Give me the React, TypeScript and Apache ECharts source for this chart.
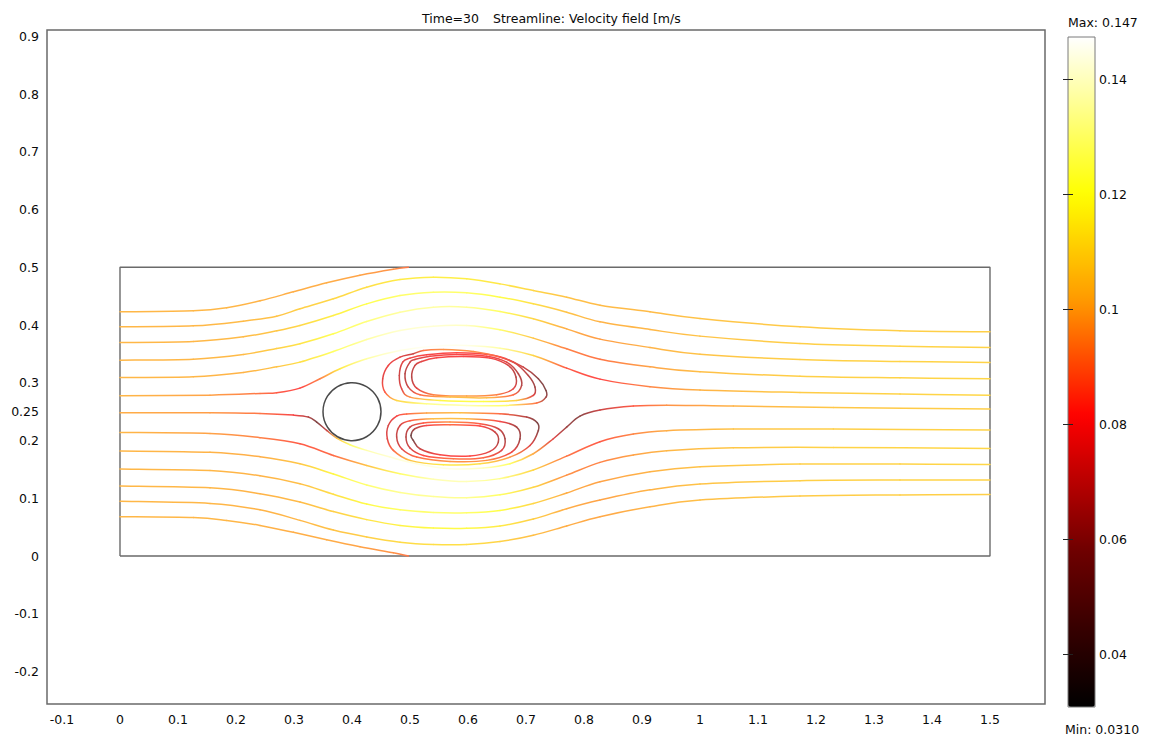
import React, { useEffect, useRef } from "react";
import * as echarts from "echarts";

// ---------- axes ----------
const X_TICKS = [-0.1, 0, 0.1, 0.2, 0.3, 0.4, 0.5, 0.6, 0.7, 0.8, 0.9, 1, 1.1, 1.2, 1.3, 1.4, 1.5];
const Y_TICKS = [-0.2, -0.1, 0, 0.1, 0.2, 0.25, 0.3, 0.4, 0.5, 0.6, 0.7, 0.8, 0.9];
const X_RANGE = [-0.12586, 1.59483];
const Y_RANGE = [-0.25632, 0.91098];

// ---------- colour bar ----------
const CBAR_TICKS = [0.04, 0.06, 0.08, 0.1, 0.12, 0.14];
const CBAR_RANGE = [0.0308, 0.1474];
const CBAR_MAX_LABEL = "Max: 0.147";
const CBAR_MIN_LABEL = "Min: 0.0310";
const TITLE_TIME = "Time=30";
const TITLE_EXPR = "Streamline: Velocity field [m/s";

// colormap (speed -> colour)
const CMAP_STOPS = [0.0308, 0.058, 0.0815, 0.101, 0.12, 0.1474];
const CMAP_RGB = [
  [0, 0, 0],
  [110, 0, 0],
  [255, 0, 0],
  [255, 150, 0],
  [255, 255, 0],
  [255, 255, 255],
];

// ---------- geometry ----------
const DOMAIN = [[0, 0], [1.5, 0], [1.5, 0.5], [0, 0.5], [0, 0]];
const CYLINDER = [[0.4, 0.25, 0.05]]; // cx, cy, r

// ---------- streamlines [x, y, speed] ----------
const SL_01 = [[0, 0.4229, 0.102], [0.1264, 0.4246, 0.102], [0.1839, 0.4298, 0.102], [0.2414, 0.4419, 0.101], [0.2989, 0.4575, 0.1], [0.3563, 0.4731, 0.1], [0.4138, 0.4863, 0.098], [0.4713, 0.4967, 0.095], [0.4971, 0.5, 0.09]];
const SL_02 = [[0, 0.3969, 0.102], [0.1264, 0.3986, 0.102], [0.2126, 0.4067, 0.103], [0.2701, 0.4154, 0.105], [0.3103, 0.4281, 0.108], [0.3678, 0.4454, 0.11], [0.4253, 0.4656, 0.112], [0.4828, 0.4788, 0.115], [0.5402, 0.4829, 0.116], [0.5977, 0.48, 0.116], [0.6552, 0.4713, 0.114], [0.7126, 0.4598, 0.11], [0.7701, 0.4483, 0.105], [0.8276, 0.4344, 0.103], [0.9138, 0.4229, 0.103], [1.0, 0.4113, 0.105], [1.1724, 0.3969, 0.107], [1.3448, 0.39, 0.108], [1.5, 0.3883, 0.108]];
const SL_03 = [[0, 0.3698, 0.102], [0.1264, 0.3715, 0.102], [0.2126, 0.3796, 0.103], [0.2701, 0.39, 0.106], [0.3103, 0.3992, 0.11], [0.3678, 0.4165, 0.116], [0.4253, 0.4367, 0.121], [0.4828, 0.4511, 0.125], [0.5402, 0.4569, 0.126], [0.5977, 0.4558, 0.125], [0.6552, 0.4483, 0.12], [0.7126, 0.4367, 0.112], [0.7701, 0.4223, 0.105], [0.8276, 0.4056, 0.101], [0.9138, 0.3923, 0.102], [1.0, 0.3808, 0.105], [1.1724, 0.3681, 0.108], [1.3448, 0.3634, 0.109], [1.5, 0.3611, 0.109]];
const SL_04 = [[0, 0.3392, 0.102], [0.1264, 0.3409, 0.102], [0.2126, 0.349, 0.103], [0.2701, 0.3594, 0.108], [0.3103, 0.3675, 0.113], [0.3678, 0.3848, 0.122], [0.4253, 0.4061, 0.128], [0.4828, 0.4223, 0.133], [0.5402, 0.4309, 0.134], [0.5977, 0.4309, 0.132], [0.6552, 0.4234, 0.124], [0.7126, 0.4108, 0.11], [0.7701, 0.3934, 0.1], [0.8276, 0.3756, 0.097], [0.9138, 0.3611, 0.101], [1.0, 0.3496, 0.105], [1.1724, 0.3404, 0.108], [1.3448, 0.3369, 0.109], [1.5, 0.3352, 0.109]];
const SL_05 = [[0, 0.3092, 0.102], [0.1264, 0.3104, 0.102], [0.2126, 0.3179, 0.101], [0.2701, 0.3277, 0.105], [0.3103, 0.3358, 0.112], [0.3678, 0.3542, 0.124], [0.4253, 0.375, 0.134], [0.4828, 0.3906, 0.14], [0.5402, 0.3981, 0.141], [0.5977, 0.3992, 0.138], [0.6552, 0.3917, 0.126], [0.7126, 0.3773, 0.106], [0.7701, 0.3588, 0.092], [0.8276, 0.3409, 0.09], [0.9138, 0.3277, 0.098], [1.0, 0.319, 0.104], [1.1724, 0.3115, 0.108], [1.3448, 0.3086, 0.109], [1.5, 0.3069, 0.11]];
const SL_06 = [[0, 0.2775, 0.102], [0.1552, 0.2786, 0.098], [0.2414, 0.2815, 0.09], [0.2701, 0.2827, 0.085], [0.3103, 0.2908, 0.082], [0.3448, 0.3069, 0.092], [0.3793, 0.3242, 0.115], [0.4253, 0.3415, 0.134], [0.4828, 0.3559, 0.143], [0.5402, 0.3634, 0.146], [0.5977, 0.3646, 0.144], [0.6552, 0.36, 0.134], [0.7126, 0.3473, 0.11], [0.7701, 0.3254, 0.085], [0.8276, 0.3063, 0.082], [0.9138, 0.2931, 0.093], [1.0, 0.2873, 0.101], [1.1724, 0.2833, 0.107], [1.3448, 0.2804, 0.109], [1.5, 0.2786, 0.11]];
const SL_07 = [[0, 0.2481, 0.1], [0.1552, 0.2481, 0.097], [0.2414, 0.2469, 0.09], [0.2989, 0.244, 0.08], [0.3247, 0.2406, 0.065], [0.3391, 0.2319, 0.05], [0.3563, 0.2175, 0.07], [0.3736, 0.2042, 0.105], [0.3966, 0.1927, 0.125], [0.4253, 0.1829, 0.135], [0.4655, 0.1713, 0.141], [0.5115, 0.1598, 0.143], [0.569, 0.1511, 0.143], [0.6264, 0.1523, 0.138], [0.6724, 0.1598, 0.124], [0.7126, 0.1771, 0.1], [0.7471, 0.2031, 0.075], [0.7701, 0.2233, 0.06], [0.7931, 0.2423, 0.055], [0.8276, 0.2527, 0.07], [0.8851, 0.2596, 0.085], [0.9425, 0.2613, 0.095], [1.0575, 0.2596, 0.101], [1.2299, 0.2573, 0.106], [1.5, 0.2544, 0.108]];
const SL_08 = [[0, 0.214, 0.102], [0.1552, 0.2123, 0.098], [0.2414, 0.205, 0.092], [0.3103, 0.1944, 0.085], [0.3678, 0.1742, 0.088], [0.4253, 0.1569, 0.105], [0.4828, 0.1425, 0.125], [0.5402, 0.133, 0.136], [0.5977, 0.129, 0.137], [0.6552, 0.134, 0.13], [0.7126, 0.149, 0.11], [0.7701, 0.173, 0.09], [0.8276, 0.1979, 0.085], [0.8851, 0.2111, 0.093], [0.9425, 0.2169, 0.1], [1.0575, 0.2198, 0.105], [1.2299, 0.2198, 0.108], [1.5, 0.2181, 0.109]];
const SL_09 = [[0, 0.1817, 0.102], [0.1552, 0.1795, 0.101], [0.2414, 0.172, 0.1], [0.3103, 0.1598, 0.106], [0.3678, 0.142, 0.118], [0.4253, 0.123, 0.126], [0.4828, 0.11, 0.131], [0.5402, 0.103, 0.132], [0.5977, 0.101, 0.131], [0.6552, 0.106, 0.124], [0.7126, 0.119, 0.11], [0.7701, 0.14, 0.095], [0.8276, 0.1621, 0.092], [0.8851, 0.1748, 0.098], [0.9425, 0.1823, 0.102], [1.0575, 0.1875, 0.106], [1.2299, 0.1881, 0.109], [1.5, 0.1863, 0.11]];
const SL_10 = [[0, 0.1506, 0.102], [0.1552, 0.148, 0.102], [0.2414, 0.139, 0.101], [0.3103, 0.1252, 0.104], [0.3678, 0.107, 0.112], [0.4253, 0.09, 0.119], [0.4828, 0.08, 0.124], [0.5402, 0.0755, 0.126], [0.5977, 0.075, 0.125], [0.6552, 0.079, 0.12], [0.7126, 0.091, 0.11], [0.7701, 0.109, 0.1], [0.8276, 0.1286, 0.098], [0.9138, 0.146, 0.101], [1.0, 0.1546, 0.105], [1.1724, 0.1592, 0.108], [1.3448, 0.1592, 0.109], [1.5, 0.1586, 0.11]];
const SL_11 = [[0, 0.1211, 0.102], [0.1552, 0.118, 0.102], [0.2414, 0.108, 0.101], [0.3103, 0.0935, 0.103], [0.3678, 0.077, 0.108], [0.4253, 0.063, 0.113], [0.4828, 0.053, 0.117], [0.5402, 0.0485, 0.119], [0.5977, 0.048, 0.119], [0.6552, 0.052, 0.115], [0.7126, 0.064, 0.108], [0.7701, 0.082, 0.1], [0.8276, 0.0969, 0.098], [0.9138, 0.1146, 0.101], [1.0, 0.1246, 0.105], [1.1724, 0.1304, 0.108], [1.3448, 0.1315, 0.109], [1.5, 0.1315, 0.109]];
const SL_12 = [[0, 0.0947, 0.102], [0.1552, 0.091, 0.102], [0.2414, 0.08, 0.101], [0.3103, 0.0617, 0.102], [0.3678, 0.045, 0.105], [0.4253, 0.033, 0.108], [0.4828, 0.024, 0.111], [0.5402, 0.02, 0.112], [0.5977, 0.02, 0.112], [0.6552, 0.025, 0.109], [0.7126, 0.036, 0.104], [0.7701, 0.052, 0.1], [0.8276, 0.0681, 0.099], [0.9138, 0.0854, 0.101], [1.0, 0.0969, 0.104], [1.1724, 0.1038, 0.107], [1.3448, 0.1058, 0.108], [1.5, 0.1067, 0.108]];
const SL_13 = [[0, 0.068, 0.102], [0.1264, 0.0665, 0.102], [0.1839, 0.0615, 0.102], [0.2414, 0.053, 0.101], [0.2989, 0.041, 0.1], [0.3563, 0.028, 0.1], [0.4138, 0.016, 0.098], [0.4713, 0.0055, 0.095], [0.4971, 0, 0.09]];

// recirculation loops behind the cylinder (closed: first point repeated)
const VU_1 = [[0.5086, 0.33, 0.07], [0.5029, 0.3098, 0.065], [0.5115, 0.2908, 0.075], [0.5402, 0.2792, 0.092], [0.5977, 0.2769, 0.098], [0.6494, 0.2792, 0.092], [0.6782, 0.2896, 0.075], [0.6828, 0.3098, 0.065], [0.6695, 0.33, 0.072], [0.6379, 0.3427, 0.08], [0.592, 0.3456, 0.08], [0.546, 0.3433, 0.08], [0.5201, 0.3369, 0.075], [0.5086, 0.33, 0.07]];
const VU_2 = [[0.5, 0.3358, 0.07], [0.4914, 0.3156, 0.065], [0.4971, 0.2925, 0.07], [0.5172, 0.2792, 0.088], [0.569, 0.2752, 0.104], [0.6322, 0.274, 0.104], [0.6782, 0.2792, 0.088], [0.6925, 0.2954, 0.065], [0.6868, 0.3156, 0.065], [0.6667, 0.3358, 0.075], [0.6322, 0.3461, 0.08], [0.5805, 0.349, 0.08], [0.5345, 0.3461, 0.078], [0.5086, 0.3404, 0.072], [0.5, 0.3358, 0.07]];
const VU_3 = [[0.4874, 0.3358, 0.075], [0.4816, 0.3127, 0.07], [0.4856, 0.2896, 0.075], [0.5, 0.2752, 0.095], [0.5517, 0.2694, 0.118], [0.6264, 0.2677, 0.12], [0.6839, 0.2694, 0.108], [0.7126, 0.2781, 0.075], [0.7155, 0.2925, 0.06], [0.704, 0.3127, 0.065], [0.6782, 0.3358, 0.075], [0.6379, 0.3484, 0.08], [0.5805, 0.3519, 0.082], [0.5287, 0.3484, 0.08], [0.5, 0.3427, 0.078], [0.4874, 0.3358, 0.075]];
const VU_4 = [[0.5057, 0.3502, 0.07], [0.4828, 0.3444, 0.075], [0.4626, 0.33, 0.078], [0.4529, 0.3069, 0.075], [0.4569, 0.2838, 0.085], [0.477, 0.2694, 0.11], [0.5287, 0.2636, 0.13], [0.5977, 0.2608, 0.135], [0.6667, 0.2608, 0.125], [0.7184, 0.2648, 0.09], [0.7345, 0.2752, 0.06], [0.7345, 0.2867, 0.05], [0.7213, 0.3069, 0.055], [0.6954, 0.3271, 0.07], [0.6552, 0.3444, 0.085], [0.6092, 0.3542, 0.095], [0.5575, 0.3577, 0.095], [0.523, 0.356, 0.09], [0.5057, 0.3502, 0.07]];
const VL_1 = [[0.5086, 0.2204, 0.065], [0.5017, 0.2088, 0.045], [0.5057, 0.2002, 0.05], [0.5172, 0.1858, 0.07], [0.5517, 0.1754, 0.08], [0.6034, 0.1731, 0.082], [0.6379, 0.1811, 0.075], [0.6523, 0.1973, 0.065], [0.6466, 0.2146, 0.07], [0.6207, 0.225, 0.082], [0.569, 0.2273, 0.088], [0.5287, 0.2262, 0.08], [0.5086, 0.2204, 0.065]];
const VL_2 = [[0.5, 0.2233, 0.07], [0.4931, 0.206, 0.065], [0.5, 0.1869, 0.072], [0.523, 0.1742, 0.082], [0.5747, 0.1685, 0.09], [0.6264, 0.1702, 0.087], [0.658, 0.1829, 0.075], [0.6638, 0.2031, 0.062], [0.6523, 0.2204, 0.07], [0.6207, 0.229, 0.085], [0.569, 0.2319, 0.095], [0.523, 0.2302, 0.085], [0.5, 0.2233, 0.07]];
const VL_3 = [[0.4828, 0.2261, 0.072], [0.477, 0.206, 0.068], [0.4856, 0.1858, 0.075], [0.5115, 0.1713, 0.088], [0.569, 0.1638, 0.096], [0.6322, 0.1656, 0.094], [0.6753, 0.18, 0.078], [0.6897, 0.2031, 0.06], [0.6839, 0.2233, 0.062], [0.6552, 0.2331, 0.08], [0.5977, 0.2377, 0.104], [0.5402, 0.2377, 0.104], [0.5, 0.2342, 0.085], [0.4828, 0.2261, 0.072]];
const VL_4 = [[0.477, 0.2423, 0.08], [0.4626, 0.2261, 0.072], [0.4609, 0.2031, 0.075], [0.4713, 0.1829, 0.088], [0.5, 0.1656, 0.105], [0.5575, 0.1581, 0.115], [0.6207, 0.1598, 0.112], [0.6724, 0.1713, 0.097], [0.7069, 0.1915, 0.075], [0.7213, 0.2175, 0.055], [0.7195, 0.2308, 0.05], [0.7011, 0.2406, 0.065], [0.6552, 0.2463, 0.088], [0.5862, 0.2481, 0.104], [0.5287, 0.2475, 0.098], [0.4943, 0.2458, 0.088], [0.477, 0.2423, 0.08]];

const STREAMLINES = [SL_01, SL_02, SL_03, SL_04, SL_05, SL_06, SL_07, SL_08, SL_09, SL_10, SL_11, SL_12, SL_13, VU_1, VU_2, VU_3, VU_4, VL_1, VL_2, VL_3, VL_4];

// ---------- helpers ----------
function cmapRGB(v: number): number[] {
  const s = CMAP_STOPS;
  if (v <= s[0]) return CMAP_RGB[0];
  if (v >= s[s.length - 1]) return CMAP_RGB[s.length - 1];
  for (let i = 0; i < s.length - 1; i++) {
    if (v >= s[i] && v <= s[i + 1]) {
      const t = (v - s[i]) / (s[i + 1] - s[i]);
      return CMAP_RGB[i].map((c, k) => c + (CMAP_RGB[i + 1][k] - c) * t);
    }
  }
  return CMAP_RGB[0];
}
function rgbStr(c: number[]) {
  return `rgb(${Math.round(c[0])},${Math.round(c[1])},${Math.round(c[2])})`;
}
const LINE_ALPHA = 0.72;
function lineColor(v: number) {
  const c = cmapRGB(v).map((x) => x * LINE_ALPHA + 255 * (1 - LINE_ALPHA));
  return rgbStr(c);
}

// segment rows: prevX, prevY, x1, y1, x2, y2, nextX, nextY, v1, v2
function buildSegments() {
  const rows: number[][] = [];
  STREAMLINES.forEach((pts) => {
    const n = pts.length;
    const closed = pts[0][0] === pts[n - 1][0] && pts[0][1] === pts[n - 1][1];
    for (let i = 0; i < n - 1; i++) {
      const p1 = pts[i];
      const p2 = pts[i + 1];
      const p0 = i > 0 ? pts[i - 1] : closed ? pts[n - 2] : pts[i];
      const p3 = i + 2 < n ? pts[i + 2] : closed ? pts[1] : pts[i + 1];
      rows.push([p0[0], p0[1], p1[0], p1[1], p2[0], p2[1], p3[0], p3[1], p1[2], p2[2]]);
    }
  });
  return rows;
}

const FONT = "'DejaVu Sans', Verdana, sans-serif";
const FS = 12.5;
const TXT = "#0a0a0a";

export default function App() {
  const ref = useRef<HTMLDivElement>(null);
  useEffect(() => {
    if (!ref.current) return;
    const chart = echarts.init(ref.current, null, { renderer: "svg" });
    const segments = buildSegments();
    const nSamples = 40;
    const barColors: string[] = [];
    for (let i = 0; i < nSamples; i++) {
      const v = CBAR_RANGE[0] + ((CBAR_RANGE[1] - CBAR_RANGE[0]) * i) / (nSamples - 1);
      barColors.push(rgbStr(cmapRGB(v)));
    }
    const option: any = {
      animation: false,
      backgroundColor: "#ffffff",
      textStyle: { fontFamily: FONT },
      grid: [
        { left: 47, top: 30, width: 998, height: 674, show: true, borderColor: "#6a6a6a", borderWidth: 1.5, backgroundColor: "transparent" },
        { left: 1068, top: 37, width: 27, height: 670, show: true, borderColor: "#7a7a7a", borderWidth: 1, backgroundColor: "transparent", z: 6 },
      ],
      xAxis: [
        {
          type: "value", gridIndex: 0, min: X_RANGE[0], max: X_RANGE[1],
          axisLine: { show: false }, axisTick: { show: false }, splitLine: { show: false },
          axisLabel: { customValues: X_TICKS, fontSize: FS, fontFamily: FONT, color: TXT, margin: 9 },
        },
        { type: "value", gridIndex: 1, min: 0, max: 1, show: false },
      ],
      yAxis: [
        {
          type: "value", gridIndex: 0, min: Y_RANGE[0], max: Y_RANGE[1],
          axisLine: { show: false }, axisTick: { show: false }, splitLine: { show: false },
          axisLabel: { customValues: Y_TICKS, fontSize: FS, fontFamily: FONT, color: TXT, margin: 8 },
        },
        {
          type: "value", gridIndex: 1, position: "right", min: CBAR_RANGE[0], max: CBAR_RANGE[1], z: 7,
          axisLine: { show: false }, splitLine: { show: false },
          axisTick: { show: true, inside: true, length: 5, customValues: CBAR_TICKS, lineStyle: { color: "#222", width: 1 } },
          axisLabel: { customValues: CBAR_TICKS, fontSize: FS, fontFamily: FONT, color: TXT, margin: 4 },
        },
        {
          type: "value", gridIndex: 1, position: "left", min: CBAR_RANGE[0], max: CBAR_RANGE[1], z: 7,
          axisLine: { show: false }, splitLine: { show: false },
          axisTick: { show: true, inside: true, length: 5, customValues: CBAR_TICKS, lineStyle: { color: "#222", width: 1 } },
          axisLabel: { show: false },
        },
      ],
      visualMap: {
        type: "continuous", seriesIndex: [], min: CBAR_RANGE[0], max: CBAR_RANGE[1],
        left: 1068, top: 37, itemWidth: 27, itemHeight: 670, padding: 0,
        calculable: false, hoverLink: false, showLabel: false, text: null,
        inRange: { color: barColors },
      },
      graphic: [
        { type: "text", x: 422, y: 18, style: { text: TITLE_TIME, fontSize: FS, fontFamily: FONT, fill: TXT, verticalAlign: "middle" } },
        { type: "text", x: 493, y: 18, style: { text: TITLE_EXPR, fontSize: FS, fontFamily: FONT, fill: TXT, verticalAlign: "middle" } },
        { type: "text", x: 1068, y: 22, style: { text: CBAR_MAX_LABEL, fontSize: FS, fontFamily: FONT, fill: TXT, verticalAlign: "middle" } },
        { type: "text", x: 1065, y: 729, style: { text: CBAR_MIN_LABEL, fontSize: FS, fontFamily: FONT, fill: TXT, verticalAlign: "middle" } },
      ],
      series: [
        {
          type: "line", xAxisIndex: 0, yAxisIndex: 0, data: DOMAIN, showSymbol: false, silent: true, z: 2,
          lineStyle: { color: "#6a6a6a", width: 1.4 },
        },
        {
          type: "custom", xAxisIndex: 0, yAxisIndex: 0, data: segments, silent: true, z: 3,
          renderItem: (_params: any, api: any) => {
            const p0 = api.coord([api.value(0), api.value(1)]);
            const p1 = api.coord([api.value(2), api.value(3)]);
            const p2 = api.coord([api.value(4), api.value(5)]);
            const p3 = api.coord([api.value(6), api.value(7)]);
            const c1 = lineColor(api.value(8));
            const c2 = lineColor(api.value(9));
            const dx = p2[0] - p1[0], dy = p2[1] - p1[1];
            if (Math.abs(dx) + Math.abs(dy) < 0.01) return null;
            return {
              type: "bezierCurve",
              shape: {
                x1: p1[0], y1: p1[1], x2: p2[0], y2: p2[1],
                cpx1: p1[0] + (p2[0] - p0[0]) / 6, cpy1: p1[1] + (p2[1] - p0[1]) / 6,
                cpx2: p2[0] - (p3[0] - p1[0]) / 6, cpy2: p2[1] - (p3[1] - p1[1]) / 6,
              },
              style: {
                fill: "none",
                stroke: new echarts.graphic.LinearGradient(p1[0], p1[1], p2[0], p2[1], [
                  { offset: 0, color: c1 },
                  { offset: 1, color: c2 },
                ], true),
                lineWidth: 1.5,
                lineCap: "round",
              },
            };
          },
        },
        {
          type: "custom", xAxisIndex: 0, yAxisIndex: 0, data: CYLINDER, silent: true, z: 4,
          renderItem: (_params: any, api: any) => {
            const c = api.coord([api.value(0), api.value(1)]);
            const r = api.size([api.value(2), 0])[0];
            return { type: "circle", shape: { cx: c[0], cy: c[1], r }, style: { fill: "none", stroke: "#4a4a4a", lineWidth: 1.5 } };
          },
        },
      ],
    };
    chart.setOption(option);
    return () => chart.dispose();
  }, []);
  return (
    <div
      ref={ref}
      style={{ position: "fixed", left: 0, top: 0, width: 1151, height: 738, background: "#fff" }}
    />
  );
}
